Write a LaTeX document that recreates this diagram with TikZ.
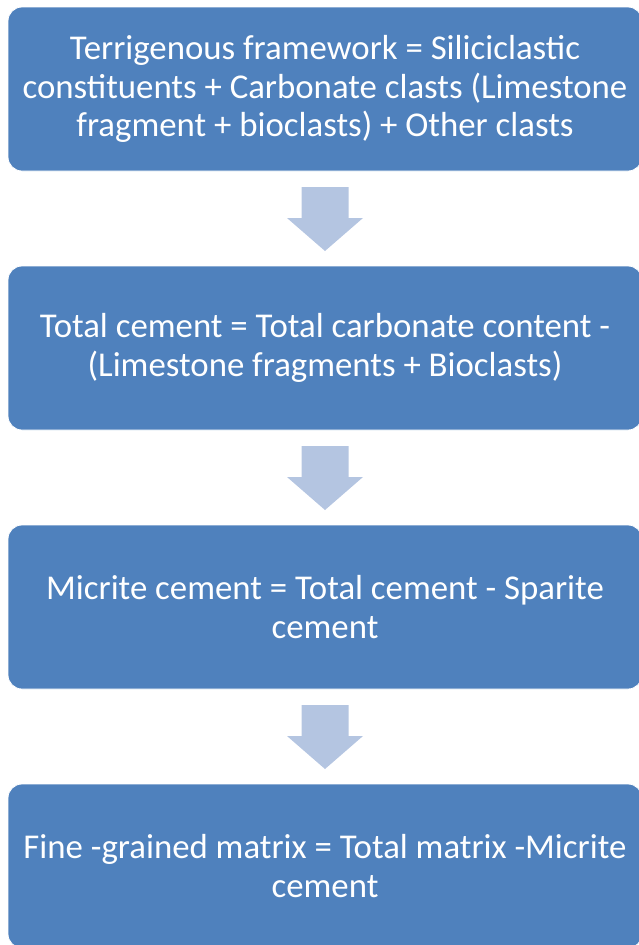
\documentclass[tikz,border=0pt]{standalone}
\usepackage{fontspec}
\setmainfont{Carlito}
\usetikzlibrary{positioning}
\definecolor{boxblue}{HTML}{4F81BD}
\definecolor{arrowblue}{HTML}{B4C5E1}

\begin{document}
\begin{tikzpicture}[x=1pt,y=-1pt,
      stepbox/.style={rectangle, rounded corners=14pt, fill=boxblue, draw=white, line width=0.8pt,
        minimum width=634pt, minimum height=164pt, align=center, text=white,
        font=\fontsize{34.8}{38.5}\selectfont},
      downarrow/.style={fill=arrowblue, draw=none}]

\useasboundingbox (0,0) rectangle (639,945);
\clip (0,0) rectangle (639,945);

\node[stepbox] (b1) at (325,89) {Terrigenous framework = Siliciclastic\\constituents + Carbonate clasts (Limestone\\fragment + bioclasts) + Other clasts};
\node[stepbox] (b2) at (325,348) {Total cement = Total carbonate content -\\(Limestone fragments + Bioclasts)};
\node[stepbox] (b3) at (325,607) {Micrite cement = Total cement - Sparite\\cement};
\node[stepbox] (b4) at (325,866) {Fine -grained matrix = Total matrix -Micrite\\cement};

% block arrows between the boxes
\coordinate (a1) at (325,187);
\coordinate (a2) at (325,446);
\coordinate (a3) at (325,705);
\foreach \a in {a1,a2,a3}
  \fill[downarrow] (\a) ++(-23.5,0) -- ++(47,0) -- ++(0,31) -- ++(14.5,0)
    -- ++(-38,33) -- ++(-38,-33) -- ++(14.5,0) -- cycle;

\end{tikzpicture}
\end{document}
